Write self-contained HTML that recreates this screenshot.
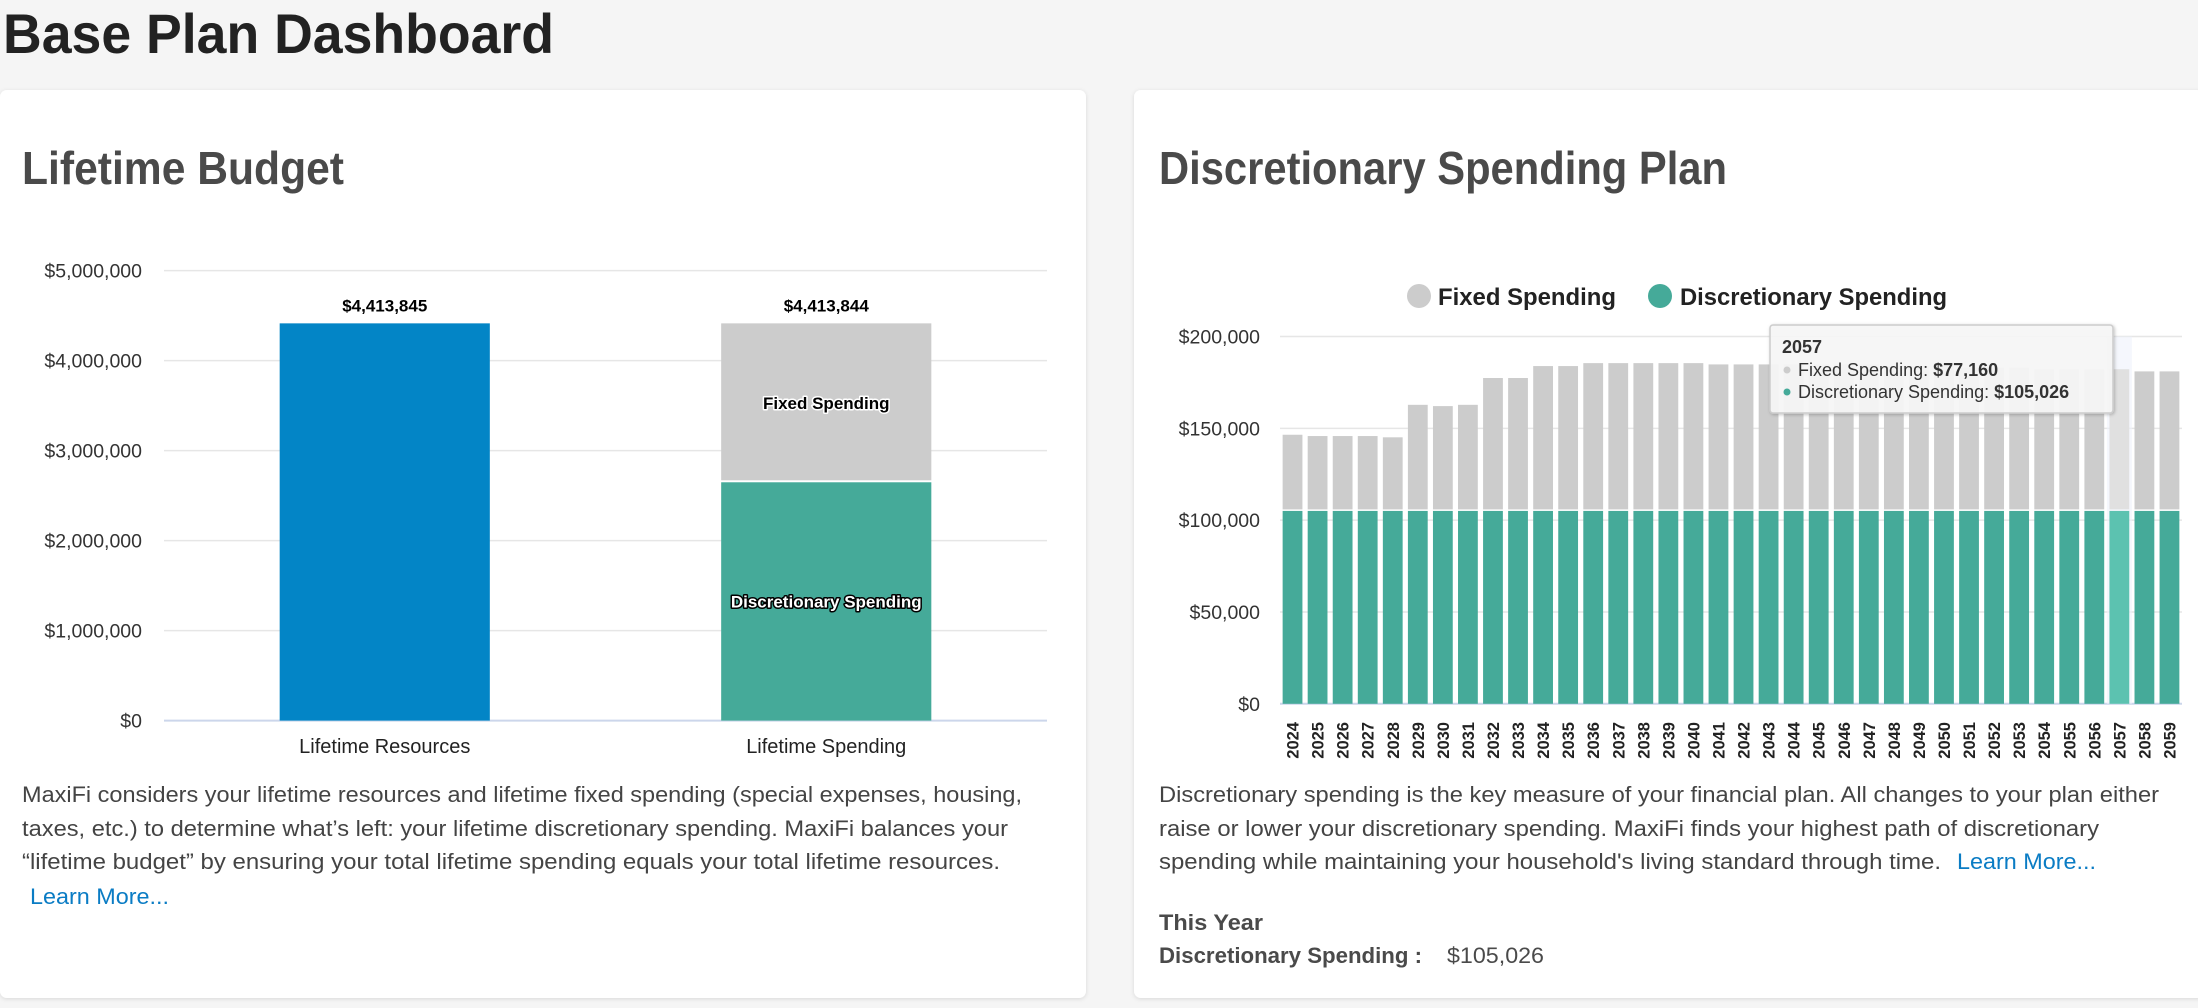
<!DOCTYPE html>
<html><head><meta charset="utf-8"><style>
html,body{margin:0;padding:0;width:2198px;height:1008px;overflow:hidden;background:#f5f5f5;font-family:"Liberation Sans",sans-serif}
svg{position:absolute;left:0;top:0}
</style></head><body>
<svg id="page" width="2198" height="1008" viewBox="0 0 2198 1008">
<defs>
<filter id="sh" x="-5%" y="-5%" width="110%" height="110%"><feDropShadow dx="0" dy="1" stdDeviation="2" flood-color="#000" flood-opacity="0.12"/></filter>
<filter id="tsh" x="-5%" y="-10%" width="110%" height="130%"><feDropShadow dx="1" dy="1" stdDeviation="1.5" flood-color="#000" flood-opacity="0.25"/></filter>
</defs>
<text x="3" y="53" font-size="56" font-weight="bold" fill="#222" textLength="551" lengthAdjust="spacingAndGlyphs">Base Plan Dashboard</text>

<rect x="0" y="90" width="1086" height="908" rx="7" fill="#fff" filter="url(#sh)"/>
<rect x="1134" y="90" width="1070" height="908" rx="7" fill="#fff" filter="url(#sh)"/>

<text x="22" y="184" font-size="46" font-weight="bold" fill="#4a4a4a" textLength="322" lengthAdjust="spacingAndGlyphs">Lifetime Budget</text>
<text x="1159" y="184" font-size="46" font-weight="bold" fill="#4a4a4a" textLength="568" lengthAdjust="spacingAndGlyphs">Discretionary Spending Plan</text>

<g id="left-chart"></g>
<g id="right-chart"></g>

<g font-size="22" fill="#444">
<text x="22" y="802" textLength="1000" lengthAdjust="spacingAndGlyphs">MaxiFi considers your lifetime resources and lifetime fixed spending (special expenses, housing,</text>
<text x="22" y="836" textLength="986" lengthAdjust="spacingAndGlyphs">taxes, etc.) to determine what’s left: your lifetime discretionary spending. MaxiFi balances your</text>
<text x="22" y="869" textLength="978" lengthAdjust="spacingAndGlyphs">“lifetime budget” by ensuring your total lifetime spending equals your total lifetime resources.</text>
</g>
<text x="30" y="904" font-size="22" fill="#0a7cc4" textLength="139" lengthAdjust="spacingAndGlyphs">Learn More...</text>

<g font-size="22" fill="#444">
<text x="1159" y="802" textLength="1000" lengthAdjust="spacingAndGlyphs">Discretionary spending is the key measure of your financial plan. All changes to your plan either</text>
<text x="1159" y="836" textLength="940" lengthAdjust="spacingAndGlyphs">raise or lower your discretionary spending. MaxiFi finds your highest path of discretionary</text>
<text x="1159" y="869" textLength="782" lengthAdjust="spacingAndGlyphs">spending while maintaining your household's living standard through time.</text>
</g>
<text x="1957" y="869" font-size="22" fill="#0a7cc4" textLength="139" lengthAdjust="spacingAndGlyphs">Learn More...</text>
<text x="1159" y="930" font-size="22" font-weight="bold" fill="#4a4a4a" textLength="104" lengthAdjust="spacingAndGlyphs">This Year</text>
<text x="1159" y="963" font-size="22" font-weight="bold" fill="#4a4a4a" textLength="263" lengthAdjust="spacingAndGlyphs">Discretionary Spending :</text>
<text x="1447" y="963" font-size="22" fill="#4a4a4a" textLength="97" lengthAdjust="spacingAndGlyphs">$105,026</text>
</svg>
<script>
const NS="http://www.w3.org/2000/svg";
// Left chart data
const budgetCategories=["Lifetime Resources","Lifetime Spending"];
const resourcesValues=[4413845,0];
const discretionaryTotals=[0,2648000];
const fixedTotals=[0,1765844];
const budgetLabels=["$4,413,845","$4,413,844"];
const budgetTicks=[0,1000000,2000000,3000000,4000000,5000000];
const budgetTickLabels=["$0","$1,000,000","$2,000,000","$3,000,000","$4,000,000","$5,000,000"];
// Right chart data
const years=["2024","2025","2026","2027","2028","2029","2030","2031","2032","2033","2034","2035","2036","2037","2038","2039","2040","2041","2042","2043","2044","2045","2046","2047","2048","2049","2050","2051","2052","2053","2054","2055","2056","2057","2058","2059"];
const discretionary=[105026,105026,105026,105026,105026,105026,105026,105026,105026,105026,105026,105026,105026,105026,105026,105026,105026,105026,105026,105026,105026,105026,105026,105026,105026,105026,105026,105026,105026,105026,105026,105026,105026,105026,105026,105026];
const fixedSpending=[41474,40774,40774,40774,40074,57774,57074,57774,72374,72374,78874,78874,80474,80474,80474,80474,80474,79774,79774,79774,79774,79774,79774,79774,79000,79000,79000,78000,78000,78000,76974,76974,76974,77160,75974,75974];
const planTicks=[0,50000,100000,150000,200000];
const planTickLabels=["$0","$50,000","$100,000","$150,000","$200,000"];
const highlightIndex=33;

function mk(parent,tag,attrs,text){const e=document.createElementNS(NS,tag);for(const k in attrs)e.setAttribute(k,attrs[k]);if(text!==undefined)e.textContent=text;parent.appendChild(e);return e;}

// ---- Left chart
(function(){
const g=document.getElementById('left-chart');
const x0=164,x1=1047,y0=720.6,yTop=270.6,max=5000000;
const y=v=>y0-(v/max)*(y0-yTop);
const band=(x1-x0)/budgetCategories.length;
const bx=i=>x0+band*i+band/2;
const bw=band*0.476;
budgetTicks.forEach((t,i)=>{
  const l=mk(g,'line',{x1:x0,x2:x1,y1:y(t),y2:y(t),stroke:i===0?'#ccd6eb':'#e6e6e6','stroke-width':i===0?2:1.5});
  
  
  const tx=mk(g,'text',{x:142,y:y(t)+7,'text-anchor':'end','font-size':19.5,fill:'#333'},budgetTickLabels[i]);
  
  
});
budgetCategories.forEach((c,i)=>{
  const cx=bx(i);
  if(resourcesValues[i]>0){
    const r=mk(g,'rect',{x:cx-bw/2,y:y(resourcesValues[i]),width:bw,height:y0-y(resourcesValues[i]),fill:'#0385c6'});
    
    
  }
  if(discretionaryTotals[i]>0){
    const d=discretionaryTotals[i],f=fixedTotals[i];
    const r1=mk(g,'rect',{x:cx-bw/2,y:y(d),width:bw,height:y0-y(d),fill:'#45aa99'});
    
    
    const r2=mk(g,'rect',{x:cx-bw/2,y:y(d+f),width:bw,height:y(d)-y(d+f)-2,fill:'#cccccc'});
    
    
    const t1=mk(g,'text',{x:cx,y:(y(d)+y0)/2+6,'text-anchor':'middle','font-size':17,'font-weight':'bold',fill:'#fff',stroke:'#000','stroke-width':3,'paint-order':'stroke','stroke-linejoin':'round'},'Discretionary Spending');
    
    
    const t2=mk(g,'text',{x:cx,y:(y(d)+y(d+f))/2+6,'text-anchor':'middle','font-size':17,'font-weight':'bold',fill:'#000',stroke:'#fff','stroke-width':3,'paint-order':'stroke','stroke-linejoin':'round'},'Fixed Spending');
    
    
  }
  const tot=resourcesValues[i]+discretionaryTotals[i]+fixedTotals[i];
  const v=mk(g,'text',{x:cx,y:y(tot)-12,'text-anchor':'middle','font-size':17,'font-weight':'bold',fill:'#000'},budgetLabels[i]);
  
  
  const cl=mk(g,'text',{x:cx,y:753,'text-anchor':'middle','font-size':20,fill:'#222'},c);
  
  
});
})();

// ---- Right chart
(function(){
const g=document.getElementById('right-chart');
const x0=1280,x1=2182,y0=703.8,yTop=336.5,max=200000;
const y=v=>y0-(v/max)*(y0-yTop);
const band=(x1-x0)/years.length;
const bx=i=>x0+band*i+band/2;
const bw=band*0.79;
// legend
const lg=mk(g,'g',{});


const e1=mk(lg,'g',{});


mk(e1,'circle',{cx:1419,cy:296,r:12,fill:'#cccccc'});
mk(e1,'text',{x:1438,y:305,'font-size':24,'font-weight':'bold',fill:'#222',textLength:178,lengthAdjust:'spacingAndGlyphs'},'Fixed Spending');
const e2=mk(lg,'g',{});


mk(e2,'circle',{cx:1660,cy:296,r:12,fill:'#45aa99'});
mk(e2,'text',{x:1680,y:305,'font-size':24,'font-weight':'bold',fill:'#222',textLength:267,lengthAdjust:'spacingAndGlyphs'},'Discretionary Spending');
planTicks.forEach((t,i)=>{
  const l=mk(g,'line',{x1:x0,x2:x1,y1:y(t),y2:y(t),stroke:i===0?'#ccd6eb':'#e6e6e6','stroke-width':i===0?2:1.5});
  
  
  const tx=mk(g,'text',{x:1260,y:y(t)+7,'text-anchor':'end','font-size':19.5,fill:'#333'},planTickLabels[i]);
  
  
});
// hover band
const hb=mk(g,'rect',{x:bx(highlightIndex)-band/2,y:yTop,width:band,height:y0-yTop,fill:'#eef2fb',opacity:0.6});


years.forEach((yr,i)=>{
  const cx=bx(i),d=discretionary[i],f=fixedSpending[i];
  const hl=i===highlightIndex;
  const r1=mk(g,'rect',{x:cx-bw/2,y:y(d),width:bw,height:y0-y(d),fill:hl?'#5cc2b0':'#45aa99'});
  
  
  const r2=mk(g,'rect',{x:cx-bw/2,y:y(d+f),width:bw,height:y(d)-y(d+f)-1.5,fill:hl?'#e0e0e0':'#cccccc'});
  
  
  const t=mk(g,'text',{x:0,y:0,'text-anchor':'end','font-size':16.5,'font-weight':'bold',fill:'#222',transform:`translate(${cx+6},722) rotate(-90)`},yr);
  
  
});
// tooltip
const tt=mk(g,'g',{});


mk(tt,'rect',{x:1770,y:325,width:343,height:88,rx:3,fill:'#f7f7f7','fill-opacity':0.92,stroke:'#cccccc','stroke-width':1.5,filter:'url(#tsh)'});
mk(tt,'text',{x:1782,y:353,'font-size':18,'font-weight':'bold',fill:'#333'},years[highlightIndex]);
mk(tt,'circle',{cx:1787,cy:370,r:3.5,fill:'#cccccc'});
const l2=mk(tt,'text',{x:1798,y:376,'font-size':18,fill:'#333'});
mk(l2,'tspan',{},'Fixed Spending: ');
mk(l2,'tspan',{'font-weight':'bold'},'$'+fixedSpending[highlightIndex].toLocaleString('en-US'));
mk(tt,'circle',{cx:1787,cy:392,r:3.5,fill:'#45aa99'});
const l3=mk(tt,'text',{x:1798,y:398,'font-size':18,fill:'#333'});
mk(l3,'tspan',{},'Discretionary Spending: ');
mk(l3,'tspan',{'font-weight':'bold'},'$'+discretionary[highlightIndex].toLocaleString('en-US'));
})();
</script>
</body></html>
